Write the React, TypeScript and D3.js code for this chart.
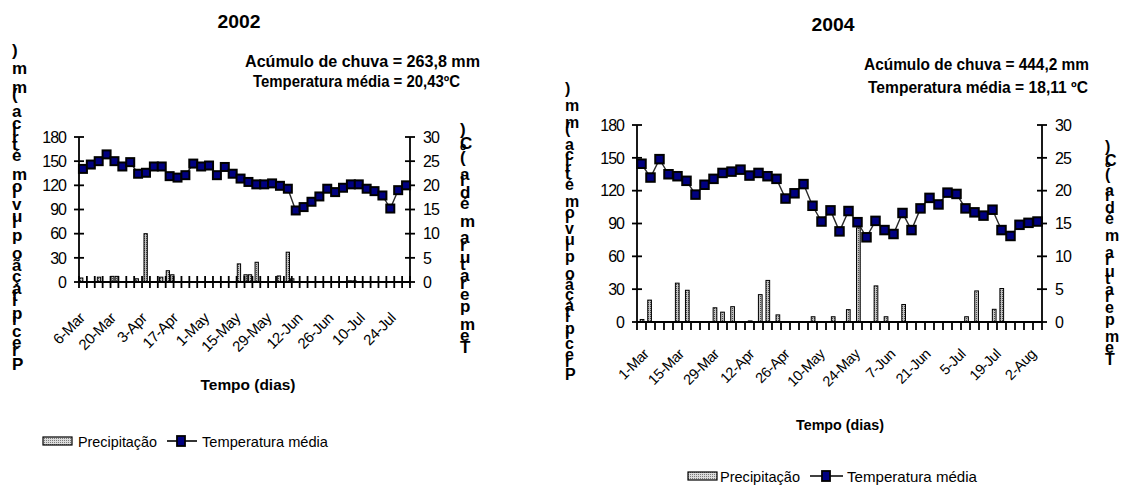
import React, { useEffect, useRef } from 'react'
import * as d3 from 'd3'

const FONT = "'Liberation Sans', Arial, sans-serif"

// ---- 2002 ----
// temperatura média (ºC), uma leitura a cada ~3,5 dias
const temp2002 = [
  23.4, 24.3, 25.0, 26.4, 25.0, 23.9, 24.8, 22.4, 22.6, 23.9,
  23.9, 21.9, 21.6, 22.1, 24.5, 23.9, 24.1, 22.1, 23.8, 22.4,
  21.4, 20.7, 20.2, 20.2, 20.4, 19.9, 19.3, 14.8, 15.5, 16.6,
  17.7, 19.3, 18.6, 19.5, 20.2, 20.2, 19.3, 18.8, 17.9, 15.2,
  19.0, 20.0,
]
const rainDates2002 = [
  '2002-03-04', '2002-03-12', '2002-03-18', '2002-03-20', '2002-03-29', '2002-04-02',
  '2002-04-09', '2002-04-12', '2002-04-14', '2002-05-14', '2002-05-17', '2002-05-19',
  '2002-05-22', '2002-06-01', '2002-06-05', '2002-06-07', '2002-07-03', '2002-07-05',
]
const rain2002 = [5, 6, 7, 7, 4, 60, 6, 14, 9, 22.5, 9, 9, 24.5, 7.5, 37, 4, 1.5, 1.5]
const dateLabels2002 = ['6-Mar', '20-Mar', '3-Apr', '17-Apr', '1-May', '15-May', '29-May', '12-Jun', '26-Jun', '10-Jul', '24-Jul']

// ---- 2004 ----
const temp2004 = [
  24.1, 22.0, 24.8, 22.5, 22.2, 21.5, 19.4, 20.9, 21.8, 22.7,
  22.9, 23.2, 22.3, 22.7, 22.2, 21.8, 18.8, 19.6, 21.0, 17.7,
  15.3, 17.0, 13.8, 16.9, 15.2, 12.9, 15.4, 14.0, 13.4, 16.6,
  14.0, 17.3, 18.9, 17.9, 19.7, 19.5, 17.3, 16.7, 16.2, 17.1,
  14.0, 13.1, 14.8, 15.1, 15.3,
]
const rainDates2004 = [
  '2004-02-27', '2004-03-01', '2004-03-12', '2004-03-16', '2004-03-27', '2004-03-30',
  '2004-04-03', '2004-04-10', '2004-04-14', '2004-04-17', '2004-04-21', '2004-05-05',
  '2004-05-13', '2004-05-19', '2004-05-23', '2004-05-30', '2004-06-03', '2004-06-10',
  '2004-07-05', '2004-07-09', '2004-07-16', '2004-07-19',
]
const rain2004 = [2.3, 20, 35.5, 29, 13, 9, 14, 1, 25, 38, 6.5, 4.8, 4.8, 11.3, 86, 33, 4.8, 16, 4.8, 28.4, 11.6, 30.6]
const dateLabels2004 = ['1-Mar', '15-Mar', '29-Mar', '12-Apr', '26-Apr', '10-May', '24-May', '7-Jun', '21-Jun', '5-Jul', '19-Jul', '2-Aug']

const precipTicks = [0, 30, 60, 90, 120, 150, 180]
const tempTicks = [0, 5, 10, 15, 20, 25, 30]

const LEFT_TITLE = 'Precipitação pluviométrica (mm)'
const RIGHT_TITLE = 'Temperatura média (ºC)'

const parseDay = d3.timeParse('%Y-%m-%d')
const parseLabel = d3.timeParse('%d-%b-%Y')

const charts = [
  {
    year: 2002,
    temp: temp2002, rainDates: rainDates2002, rain: rain2002, labels: dateLabels2002,
    notes: ['Acúmulo de chuva = 263,8 mm', 'Temperatura média = 20,43ºC'],
    domain: ['2002-03-03', '2002-07-30'],
    x0: 79, x1: 410, yTop: 137, yBot: 282,
    title: { x: 239, y: 28, len: 43 },
    noteLines: [{ x: 245, y: 67, len: 235 }, { x: 253, y: 87, len: 207 }],
    xTickCross: true, xLabelDy: 37, xFont: 15, barW: 3.3, marker: 8,
    xTitle: { x: 248, y: 390, len: 95 },
    leftTitle: { x: 12, yBottom: 370, span: 314, size: 17 },
    rightTitle: { x: 460, yBottom: 353, span: 218, size: 17 },
    legend: { sx: 43, sy: 437, tx: 78, tlen: 79, lx: 167, lx2: 197, mx: 181, t2x: 202, t2len: 126, ty: 447 },
  },
  {
    year: 2004,
    temp: temp2004, rainDates: rainDates2004, rain: rain2004, labels: dateLabels2004,
    notes: ['Acúmulo de chuva = 444,2 mm', 'Temperatura média = 18,11 ºC'],
    domain: ['2004-02-25', '2004-08-04'],
    x0: 637, x1: 1042, yTop: 125, yBot: 322,
    title: { x: 833, y: 31, len: 43 },
    noteLines: [{ x: 864, y: 70, len: 225 }, { x: 868, y: 93, len: 220 }],
    xTickCross: false, xLabelDy: 33, xFont: 14.5, barW: 3.7, marker: 8.5,
    xTitle: { x: 840, y: 430, len: 88 },
    leftTitle: { x: 565, yBottom: 380, span: 286, size: 16 },
    rightTitle: { x: 1105, yBottom: 365, span: 213, size: 16 },
    legend: { sx: 688, sy: 472, tx: 720, tlen: 80, lx: 810, lx2: 843, mx: 826, t2x: 847, t2len: 130, ty: 482 },
  },
]

const measureCtx = document.createElement('canvas').getContext('2d')

// eixo com letras empilhadas (texto girado, glifos em pé)
function stackedTitle(g, text, cfg) {
  const font = `bold ${cfg.size}px ${FONT}`
  measureCtx.font = font
  const chars = Array.from(text)
  const adv = chars.map((c) => measureCtx.measureText(c).width)
  const offs = [0]
  adv.forEach((a, i) => { if (i < adv.length - 1) offs.push(offs[i] + a) })
  const total = offs[offs.length - 1]
  chars.forEach((c, i) => {
    if (c === ' ') return
    g.append('text')
      .attr('x', cfg.x)
      .attr('y', cfg.yBottom - (offs[i] / total) * cfg.span)
      .style('font', font)
      .text(c)
  })
}

const ClimateChart = ({ cfg }) => {
  const ref = useRef(null)

  useEffect(() => {
    const g = d3.select(ref.current)
    g.selectAll('*').remove()

    const n = cfg.temp.length
    const band = d3.scaleBand().domain(d3.range(n)).range([cfg.x0, cfg.x1])
    const xTime = d3.scaleTime().domain(cfg.domain.map(parseDay)).range([cfg.x0, cfg.x1])
    const yLeft = d3.scaleLinear().domain([0, 180]).range([cfg.yBot, cfg.yTop])
    const yRight = d3.scaleLinear().domain([0, 30]).range([cfg.yBot, cfg.yTop])

    // título e anotações
    g.append('text')
      .attr('x', cfg.title.x).attr('y', cfg.title.y)
      .attr('text-anchor', 'middle')
      .attr('textLength', cfg.title.len).attr('lengthAdjust', 'spacingAndGlyphs')
      .style('font', `bold 18px ${FONT}`)
      .text(cfg.year)
    cfg.notes.forEach((t, i) => {
      const p = cfg.noteLines[i]
      g.append('text')
        .attr('x', p.x).attr('y', p.y)
        .attr('textLength', p.len).attr('lengthAdjust', 'spacingAndGlyphs')
        .style('font', `bold 16px ${FONT}`)
        .text(t)
    })

    // barras de precipitação
    g.selectAll('rect.bar')
      .data(cfg.rain)
      .join('rect')
      .attr('class', 'bar')
      .attr('x', (d, i) => xTime(parseDay(cfg.rainDates[i])) - cfg.barW / 2)
      .attr('y', (d) => yLeft(d))
      .attr('width', cfg.barW)
      .attr('height', (d) => cfg.yBot - yLeft(d))
      .attr('fill', 'url(#dots)')
      .attr('stroke', '#000')
      .attr('stroke-width', 1)

    // eixos
    const axis = g.append('g').attr('stroke', '#000').attr('stroke-width', 1.8)
    axis.append('line').attr('x1', cfg.x0).attr('x2', cfg.x0).attr('y1', cfg.yTop).attr('y2', cfg.yBot)
    axis.append('line').attr('x1', cfg.x1).attr('x2', cfg.x1).attr('y1', cfg.yTop).attr('y2', cfg.yBot)
    axis.append('line').attr('x1', cfg.x0).attr('x2', cfg.x1).attr('y1', cfg.yBot).attr('y2', cfg.yBot)
    precipTicks.forEach((t) => {
      axis.append('line').attr('x1', cfg.x0 - 5).attr('x2', cfg.x0 + 5).attr('y1', yLeft(t)).attr('y2', yLeft(t))
    })
    tempTicks.forEach((t) => {
      axis.append('line').attr('x1', cfg.x1 - 5).attr('x2', cfg.x1 + 5).attr('y1', yRight(t)).attr('y2', yRight(t))
    })
    d3.range(n + 1).forEach((i) => {
      const x = cfg.x0 + i * band.step()
      axis.append('line')
        .attr('x1', x).attr('x2', x)
        .attr('y1', cfg.xTickCross ? cfg.yBot - 6 : cfg.yBot)
        .attr('y2', cfg.yBot + (cfg.xTickCross ? 6 : 8))
    })

    g.selectAll('text.yl')
      .data(precipTicks)
      .join('text')
      .attr('class', 'yl')
      .attr('x', cfg.x0 - 13).attr('y', (d) => yLeft(d)).attr('dy', '0.36em')
      .attr('text-anchor', 'end')
      .attr('letter-spacing', -1)
      .style('font', `16px ${FONT}`)
      .text((d) => d)
    g.selectAll('text.yr')
      .data(tempTicks)
      .join('text')
      .attr('class', 'yr')
      .attr('x', cfg.x1 + 13).attr('y', (d) => yRight(d)).attr('dy', '0.36em')
      .attr('letter-spacing', -1)
      .style('font', `16px ${FONT}`)
      .text((d) => d)

    // rótulos de data
    cfg.labels.forEach((lab) => {
      const x = xTime(parseLabel(`${lab}-${cfg.year}`))
      const y = cfg.yBot + cfg.xLabelDy
      g.append('text')
        .attr('x', x).attr('y', y)
        .attr('text-anchor', 'end')
        .attr('transform', `rotate(-45, ${x}, ${y})`)
        .attr('letter-spacing', -0.4)
        .style('font', `${cfg.xFont}px ${FONT}`)
        .text(lab)
    })

    g.append('text')
      .attr('x', cfg.xTitle.x).attr('y', cfg.xTitle.y)
      .attr('text-anchor', 'middle')
      .attr('textLength', cfg.xTitle.len).attr('lengthAdjust', 'spacingAndGlyphs')
      .style('font', `bold 15px ${FONT}`)
      .text('Tempo (dias)')

    stackedTitle(g, LEFT_TITLE, cfg.leftTitle)
    stackedTitle(g, RIGHT_TITLE, cfg.rightTitle)

    // temperatura
    const cx = (i) => band(i) + band.bandwidth() / 2
    const line = d3.line().x((d, i) => cx(i)).y((d) => yRight(d))
    g.append('path')
      .datum(cfg.temp)
      .attr('d', line)
      .attr('fill', 'none')
      .attr('stroke', '#2a2a2a')
      .attr('stroke-width', 1.4)
    const m = cfg.marker
    g.selectAll('rect.mk')
      .data(cfg.temp)
      .join('rect')
      .attr('class', 'mk')
      .attr('x', (d, i) => cx(i) - m / 2)
      .attr('y', (d) => yRight(d) - m / 2)
      .attr('width', m).attr('height', m)
      .attr('fill', '#000080')
      .attr('stroke', '#000')
      .attr('stroke-width', 2)

    // legenda
    const L = cfg.legend
    g.append('rect')
      .attr('x', L.sx).attr('y', L.sy).attr('width', 29).attr('height', 8)
      .attr('fill', 'url(#dotsLight)').attr('stroke', '#000').attr('stroke-width', 1.2)
    g.append('text')
      .attr('x', L.tx).attr('y', L.ty)
      .attr('textLength', L.tlen).attr('lengthAdjust', 'spacingAndGlyphs')
      .style('font', `15px ${FONT}`)
      .text('Precipitação')
    g.append('line')
      .attr('x1', L.lx).attr('x2', L.lx2).attr('y1', L.sy + 4).attr('y2', L.sy + 4)
      .attr('stroke', '#000').attr('stroke-width', 1.6)
    g.append('rect')
      .attr('x', L.mx - 4).attr('y', L.sy - 1).attr('width', 8).attr('height', 10)
      .attr('fill', '#000080').attr('stroke', '#000').attr('stroke-width', 1.8)
    g.append('text')
      .attr('x', L.t2x).attr('y', L.ty)
      .attr('textLength', L.t2len).attr('lengthAdjust', 'spacingAndGlyphs')
      .style('font', `15px ${FONT}`)
      .text('Temperatura média')
  }, [cfg])

  return <g ref={ref} />
}

export default function App() {
  return (
    <svg
      width={1129}
      height={486}
      style={{ position: 'absolute', left: 0, top: 0, background: '#fff' }}
    >
      <defs>
        <pattern id="dots" width="2" height="2" patternUnits="userSpaceOnUse">
          <rect width="2" height="2" fill="#c4c4c4" />
          <rect width="1" height="1" fill="#4a4a4a" />
        </pattern>
        <pattern id="dotsLight" width="2" height="2" patternUnits="userSpaceOnUse">
          <rect width="2" height="2" fill="#dcdcdc" />
          <rect width="1" height="1" fill="#7a7a7a" />
        </pattern>
      </defs>
      {charts.map((c) => (
        <ClimateChart key={c.year} cfg={c} />
      ))}
    </svg>
  )
}
